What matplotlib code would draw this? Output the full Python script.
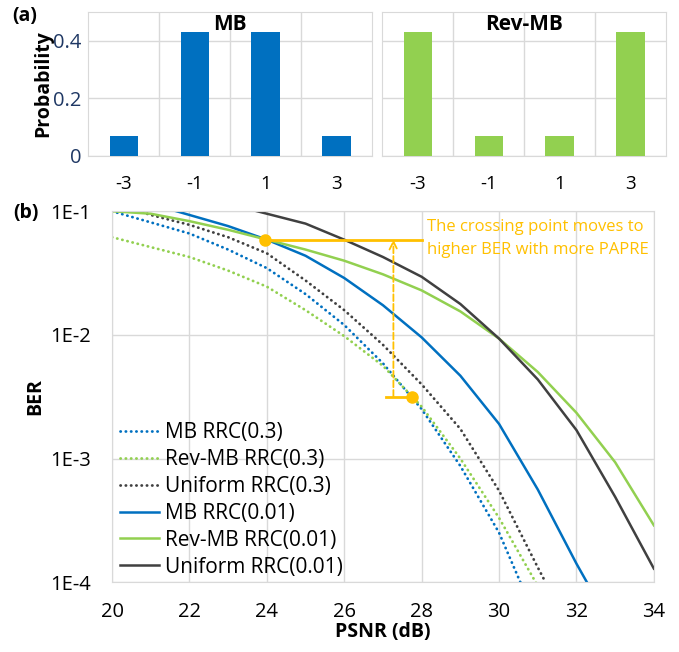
import matplotlib
matplotlib.use('Agg')
import matplotlib.pyplot as plt
from matplotlib.ticker import FixedLocator, NullLocator

plt.rcParams['font.family'] = ['Open Sans', 'DejaVu Sans']

# (a) symbol probabilities
levels = ['-3', '-1', '1', '3']
p_mb = [0.07, 0.43, 0.43, 0.07]
p_revmb = [0.43, 0.07, 0.07, 0.43]

# (b) BER curves, log10(BER) read at PSNR points
x_mb_03 = [20, 21, 22, 23, 24, 25, 26, 27, 28, 29, 30, 30.55]
y_mb_03 = [-1.00, -1.09, -1.18, -1.31, -1.46, -1.67, -1.92, -2.23, -2.60, -3.06, -3.60, -4.0]
x_rev_03 = [20, 21, 22, 23, 24, 25, 26, 27, 28, 29, 30, 31]
y_rev_03 = [-1.21, -1.29, -1.37, -1.48, -1.61, -1.80, -2.01, -2.25, -2.58, -3.00, -3.48, -4.03]
x_uni_03 = [20, 21, 22, 23, 24, 25, 26, 27, 28, 29, 30, 31, 31.2]
y_uni_03 = [-0.93, -1.03, -1.11, -1.21, -1.34, -1.56, -1.80, -2.08, -2.40, -2.76, -3.26, -3.88, -4.0]
x_mb_001 = [20, 21, 22, 23, 24, 25, 26, 27, 28, 29, 30, 31, 32, 32.27]
y_mb_001 = [-0.86, -0.94, -1.03, -1.12, -1.23, -1.36, -1.54, -1.76, -2.02, -2.33, -2.72, -3.25, -3.85, -4.0]
x_rev_001 = [20, 21, 22, 23, 24, 25, 26, 27, 28, 29, 30, 31, 32, 33, 34]
y_rev_001 = [-1.0, -1.02, -1.08, -1.15, -1.23, -1.31, -1.40, -1.51, -1.64, -1.81, -2.03, -2.30, -2.63, -3.03, -3.54]
x_uni_001 = [22, 23, 24, 25, 26, 27, 28, 29, 30, 31, 32, 33, 34]
y_uni_001 = [-0.88, -0.94, -1.02, -1.10, -1.23, -1.37, -1.53, -1.75, -2.03, -2.36, -2.77, -3.31, -3.89]

cross_hi = (23.95, -1.23)
cross_lo = (27.75, -2.50)

blue = '#0070C0'
green = '#92D050'
dark = '#404040'
orange = '#FFC000'
gridc = '#D9D9D9'
navy = '#1F3864'

fig = plt.figure(figsize=(6.79, 6.52), dpi=100)

ax1 = fig.add_axes([0.130, 0.761, 0.418, 0.221])
ax2 = fig.add_axes([0.563, 0.761, 0.418, 0.221])

for ax, probs, col, title in [(ax1, p_mb, blue, 'MB'), (ax2, p_revmb, green, 'Rev-MB')]:
    pos = range(len(levels))
    ax.bar(pos, probs, width=0.4, color=col, zorder=3)
    ax.set_xlim(-0.5, 3.5)
    ax.set_ylim(0, 0.5)
    ax.set_yticks([0, 0.2, 0.4])
    ax.set_yticklabels(['0', '0.2', '0.4'])
    ax.xaxis.set_major_locator(FixedLocator(list(pos)))
    ax.set_xticklabels(levels)
    ax.xaxis.set_minor_locator(FixedLocator([0.5, 1.5, 2.5]))
    ax.grid(True, which='minor', axis='x', color=gridc, lw=1)
    ax.grid(True, which='major', axis='y', color=gridc, lw=1)
    ax.tick_params(which='both', length=0)
    ax.tick_params(axis='x', pad=14, labelsize=13.5)
    ax.tick_params(axis='y', labelsize=14.5, labelcolor=navy, pad=5)
    for s in ax.spines.values():
        s.set_color(gridc)
    ax.text(0.5, 0.985, title, transform=ax.transAxes, ha='center', va='top',
            fontsize=15, fontweight='bold')

ax2.set_yticklabels([])
ax1.set_ylabel('Probability', fontsize=14, fontweight='bold', labelpad=0)
fig.text(0.018, 0.975, '(a)', fontsize=14, fontweight='bold', va='center')

ax = fig.add_axes([0.165, 0.107, 0.798, 0.569])
dot = (0, (0.1, 1.8))
ax.plot(x_mb_03, [10 ** v for v in y_mb_03], color=blue, lw=2.0, ls=dot,
        dash_capstyle='round', label='MB RRC(0.3)')
ax.plot(x_rev_03, [10 ** v for v in y_rev_03], color=green, lw=2.0, ls=dot,
        dash_capstyle='round', label='Rev-MB RRC(0.3)')
ax.plot(x_uni_03, [10 ** v for v in y_uni_03], color=dark, lw=2.0, ls=dot,
        dash_capstyle='round', label='Uniform RRC(0.3)')
ax.plot(x_mb_001, [10 ** v for v in y_mb_001], color=blue, lw=1.8, label='MB RRC(0.01)')
ax.plot(x_rev_001, [10 ** v for v in y_rev_001], color=green, lw=1.8, label='Rev-MB RRC(0.01)')
ax.plot(x_uni_001, [10 ** v for v in y_uni_001], color=dark, lw=1.8, label='Uniform RRC(0.01)')

ax.set_yscale('log')
ax.set_xlim(20, 34)
ax.set_ylim(1e-4, 1e-1)
ax.set_xticks(range(20, 35, 2))
ax.set_yticks([1e-4, 1e-3, 1e-2, 1e-1])
ax.set_yticklabels(['1E-4', '1E-3', '1E-2', '1E-1'])
ax.yaxis.set_minor_locator(NullLocator())
ax.grid(True, color=gridc, lw=1)
ax.tick_params(which='both', length=0)
ax.tick_params(axis='x', pad=14, labelsize=14.5)
ax.tick_params(axis='y', pad=15, labelsize=14.5)
for s in ax.spines.values():
    s.set_color(gridc)
ax.set_xlabel('PSNR (dB)', fontsize=14, fontweight='bold', labelpad=0)
ax.set_ylabel('BER', fontsize=14, fontweight='bold', labelpad=4)
fig.text(0.02, 0.674, '(b)', fontsize=14, fontweight='bold', va='center')

# crossing point annotation
hi_y = 10 ** cross_hi[1]
lo_y = 10 ** cross_lo[1]
ax.plot([cross_hi[0], 28.0], [hi_y, hi_y], color=orange, lw=2, zorder=4)
ax.plot([27.08, cross_lo[0]], [lo_y, lo_y], color=orange, lw=2, zorder=4)
ax.plot(*[[c] for c in (cross_hi[0], hi_y)], 'o', color=orange, ms=8, zorder=5)
ax.plot(*[[c] for c in (cross_lo[0], lo_y)], 'o', color=orange, ms=8, zorder=5)
ax.annotate('', xy=(27.27, hi_y), xytext=(27.27, lo_y),
            arrowprops=dict(arrowstyle='->', color=orange, lw=1.3, ls='--',
                            shrinkA=0, shrinkB=0, mutation_scale=14), zorder=4)
ax.text(28.15, 10 ** -1.22, 'The crossing point moves to\nhigher BER with more PAPRE',
        color=orange, fontsize=12, va='center', ha='left', linespacing=1.55)

ax.legend(loc='lower left', frameon=False, fontsize=15, handlelength=1.85,
          handletextpad=0.3, labelspacing=0.28, borderaxespad=0.0,
          bbox_to_anchor=(0.0, -0.01))

fig.savefig('out.png', dpi=100)
